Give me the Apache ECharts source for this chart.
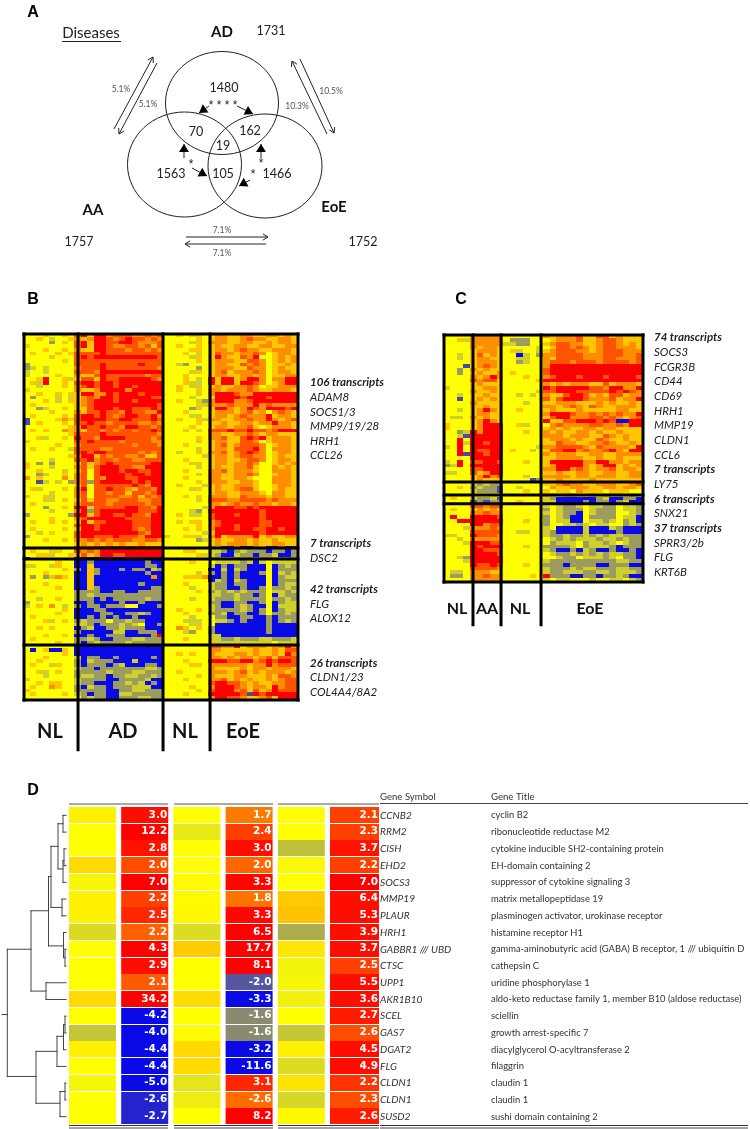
<!DOCTYPE html>
<html>
<head>
<meta charset="utf-8">
<style>html,body{margin:0;padding:0;background:#fff}#main{width:750px;height:1129px}</style>
<script src="https://cdn.jsdelivr.net/npm/echarts@6/dist/echarts.min.js"></script>
</head>
<body>
<div id="main"></div>
<script>
// shade codes
const shadeLevels = {y: 0, l: .45, o: .9, d: 1.35, r: 2, g: -.4, k: -.85, s: -1.5, b: -2};

// panel B, columns NL | AD | NL | EoE
const bGroupStart = [0, 8, 22, 29];
const bTop = [
  'yyylyyly drlrrodddoodod yylylgy loolloolloolol',
  'yylygyyl olorrdodrddodo yyyyyly loollodoollool',
  'yyyykyly drlrrddrrdoood yyyygly ooolloollolool',
  'lyyyyyyy drlrrdooddodld yylyyly lolloolloolloo',
  'yyylyyly ollrrdddoddodo yyyylly loolodoolloool',
  'ylyyylyl ddddrddddddddd yyylygy ldooloodoylool',
  'yyyygyyy drdrrrrrrrrrrd yyyygly lrolldoryylolo',
  'yyyyyyly dddddddddddddd yyyyyly looollddoylolo',
  'kyyyyyyy ddddrdddddrddd yygkyyy loolldodoyllol',
  'kgygyyyy odddrddddddddo yyyyyky looolldooyloll',
  'gyygyyyy dddorrrrrrrrrr yyyygly lodlooodoylool',
  'gyyyylyy olldrddddddodd yyylyyy loollooloylloo',
  'yylryylg lddlrddrrrrrdo yyylygy rlrrlorroyoorr',
  'ylgryyly drrdrrdrrrrrrr yyylggy rlrrlrrdoylorr',
  'yygyyyly odrdrrdrrdrrrr yylyggy lolloodoyllooo',
  'lyyyyyyy ollorrrrorrrrr yylyyly oolooodolloool',
  'yylyylyl lrroordrrrdrrr yyyyygy orrrdoorrrrrrr',
  'ykyyygyg lodorrdrrrrrdd yyyygyy lrrrrdrrrdrrrr',
  'yyylygyl lodrrrdrrdrrrr yylyygk orrroodrrrrrrr',
  'ylyyyyyy lodrrrrrrrrrrd yyyyylg ooodooorodoooo',
  'yykgyyly lldrrrdrrdddrd yyyykgy lrrolordorrrdr',
  'yyyylyyy olddrddorddoor yyylyyy looolodloyodol',
  'ylyyyyly drrdrdodrrddro yyyyggy loolodooorlool',
  'syyyylol drrrrddrrdddrd yylyylg oolloodoorolod',
  'sylyyyly ddrddoddddoodo yyyyyly llollooloorool',
  'yyyyyyyl orddrddorrddod yyyylyy looloodlyloool',
  'ylylyyol olddododdoddrd yyylygy dddrddrddodrrr',
  'yyyyyyyl ddddrddddddddo yyyyyyy oolloodoloolll',
  'yylgyyly rddorrrrddddod yyyyyly oodlldrdrloool',
  'lyyyyyyy ddrddddoddddoo yyyyygy loollddoyloool',
  'yyyyylyy oddddddddodddo yyylyyy lodlodddoylool',
  'ylyylyyg ddddoodddddddd yyyyygy looldddroyoool',
  'yyyyyyyy drdrrdddddodod yygyyly oodlodrdoylool',
  'yyyyyyyl orrldoddoodlld yyyyyyg looloddooyloll',
  'yyyygyyy ddroddoddooddd yyylyyy loolloddoylool',
  'lykykyyy ldgodrddddddrr yyyygly looloodoyylolo',
  'lyyygyyy odldrrrddoorrr yyyyygy lolloodlyyolol',
  'yylyyygy ldydrrrdrrddrr yyylyyy oodlooolyyoool',
  'yykgyyly odydrrrrdrrdrr yyyyygy oolloodoyylool',
  'oylyyyoy odydorrrddrrrr yyylyyy oolloolyyyoool',
  'yysgygyk odkdrrrrrdrdrr yyyyyly ooolloolyyoool',
  'yyyyyyyy ldyddddddrdorr yylyyyg lollooolyylool',
  'ylgyyyly oryddrddolddor yyyygly lolloddlyyloll',
  'yyyygyyy odyddoddlddodr yyyyyyy loollooolyooll',
  'gyylgyyy odyddddoodldod yyylyly ooolldooolooll',
  'yyyggyly ldlddoodddoodd yyyyygy dddooddddodooo',
  'ylyyyyyy oddddodddddodd yyyyyyy oolodoodoolool',
  'yyykyyly rrgdddddrrddor yyyyyyg orrrddrdrrrrrr',
  'yyyygyyy orkdrrrrrrdddr yyyygky rrrrrrrrdrrrrr',
  'kyyyyyyk rrldrrddrddorr yylyggy drrrdrrrdrrrrr',
  'yyyylyyy odrrrrrrddddrr yyyyyyy drrrrrrrdrrrrr',
  'ylyylyly lrlddrrrrdddrr yylylly odrrrrrrddrrrr',
  'yyyyyyyy drrdrrrrrdddrr yyyyyly odrrdrrrddrrrr',
  'ylyyyyly lrrdrrrrrdodrr yyylyly orrrdrrddrrdrr',
  'yygylyyy drrrrrrrrrdorr yyyyyyg lrrrrrrrdrrrrr',
  'kyyyyyyy drrdddrdddorrr gyyllgy orloooorlolloo',
  'yyylyyly oodododddooddo yyyyykg lolloololloll',
  'yyyyyyyy lolololollolll yyyyyyy lolooolollool'
];
const bDsc = [
  'yyyyyyyy ddddrrrrrrrrrr yyyyyyy kgbbgbbkgbbkbb',
  'ylyyllyy dodorrrrrrrrrr yyyllyy ggkbkgkkkbkkbk',
  'yyllgyyl ldlorrddrrrrrr yyyyylg gkbbgkkbkkgbbk'
];
const bFlg = [
  'byyyyyyy bbbbbbbbbbbbbb yyyyyyy kkkkkkkkkkkkkk',
  'yyyyylyy bbkbbbbbbbbkbb yyyylyy yggggkgbgygggg',
  'ggyyglyy bblbbbbbbbbkkb yyyyyyy gbkbkkbbbybkgk',
  'yyyyyyly kblkbbbkbkkbgk yyyyyyy bbgbgkbbbybkkk',
  'yyylyyyy bblkbbbbbbbkbb yyyyygy kbkbkbbbkybgkg',
  'ykykgoly bblbbbbbbbbbob yyylllo bbkbkbbbbybkgg',
  'yyyyyyyy bblbbbbbbbbbbb yyyyyyy bgkbgkbbbybkkk',
  'yyylyyyy bblbbbbbbbkbbb yyylyyy gkkbkkbbbybkgg',
  'yyyyylyy bblkbbbbbbbbkk yyyygyy gkkbbkbbkykkgk',
  'ylyyyyyy kkkkbbkkbbkkkk yyyyyly kgkgkgkkkyggkg',
  'yyyyyyyy kkgkkkkkkkkkkk yyyyyyy ggkkgkkbkybgkk',
  'yygyylyy kkkbkbkkkkkgkk yyyygyy gkkkgkkkkykkgk',
  'kyyyyyyy bbkbbbbkbbkbbb yyyyyyy kkbbkkbbkybkgg',
  'gylyoygy kbkkbkkkyybbbk yyyyyyy gkbbkgkbbybggg',
  'yyyyyyly bbbkkbbbbbbbbb yylyyly gkkkkgkbkybkgg',
  'yyyyylyy bbbbkkbbkkgkbb yyylyyy kkgbkkbbkykkgk',
  'ylyyyyyy bbkbkbkbbkbbbb yyyygyy ykkbbkkbbkbkkk',
  'yyylgyly kgkkkykkgkkbbb yyygggy yggkbkbbbkbkgk',
  'yyyyyyyy ggkbkkkgkgybbk yyyyggy ybbbbbbbbkbbbb',
  'yylylyyy bkgbbkkgkkkbbb yyolyly kbbbbbbbbkbbbb',
  'yyyyyyyy kbbbbbggbbkkkb yyygkyy kbbbbbbbbkbbbb',
  'yyylyyly bbkbbkkkbbbbkr yyyyyyy ggbbbbbbbbbbbb',
  'ylyyyyyy kkgkbbkkkggkkk yyylyyy ggkkgkkkggkkkg',
  'yyyyylyy kbkgkkkkgkkkkk yyyyyyy ggggggggggyggg'
];
const bCldn = [
  'yyyyyyyy bbbbbbbbbbbbbb yyyyyyy ddoorlooolooro',
  'ybylbbly bbbbbbbbbbbbbb yyyyyyy oolllllolloldd',
  'yyyyyyly bbbbbbbbbbbbbb yylylyy ollloolollolro',
  'yyylyyyy gbkkbbkbbbbbkb yyyyyyy oololoolodlddd',
  'yylyyyyy kbgkkkbbbgbbbb yyylyyy rrrddrrodrdrrd',
  'ylyyglyy kbkkkbkgbbbkkb yyyylly oooooolooroddd',
  'yyyyyyyy gkkbkkkkkkkggk yyyyyyy ollllolooloool',
  'yylgylyy kkkkkgkkkggkkk yylyyyy ooolodlolooolo',
  'yyygyyyy kggkkbkkggkkgk yyyyyly ollloolllolddo',
  'gyyyyyyy gkkkkbbkkkkgbb yyylyyy oodlolollolodd',
  'yylyllyy gkkbbbkkgkgbkb yyyyyyy drrddololloodd',
  'ylyyolyy kbgkkbkkkgggbb yyyylyy orrrdoloolrodd',
  'lyyyyyyy kkkkkbbkkggkkk yyyyyly drrrodldlorddd',
  'ylyyyyly gkbkkbbggkkkkk yyylyyy rrrrrdsrdrrrrr',
  'yyyyyyyy ykgkkbbkkkggkk yyyyyyy orrddollodlrrr'
];

// panel C, columns NL | AA | NL | EoE
const cGroupStart = [0, 4, 9, 15];
const cTop = [
  'yyyy ooooo yyyyyy olooodllddlolll',
  'yylg ooooo ykkkyy ylooodlloddolll',
  'yyyy ooooo ggkkyy loddoolloddolol',
  'yyyy olool yyyyyg ylddodoloddoool',
  'yyyy loool ylgyyg lodddoolodddooo',
  'yygy ldlol yybgyk ooddddooodddood',
  'yygy looll yyggyy olddddoooddoood',
  'yyyy loool yykgyy odddodddoddddod',
  'yyys lodol yyyyyy orrrrrrrrrrrrrr',
  'yyky ololl yyyyyy drrrrrrrrrrrrrr',
  'yyky lollo ylyyyy drrrrrrrrrrrrrr',
  'yyyy oloro yyylyy odrrrdrrrdrrrrd',
  'yyyy doddl yyyyyl rrrrrrrrrrrrrrr',
  'yyyy lolll yyyyyy ololooolldloool',
  'gyyy llool yyyyyy rdrrrrrddorroor',
  'yyyy ollol yyyyyg ddrrrdddddrdrdo',
  'yygy lloll yygygy olldrrdlolddloo',
  'yysy lolol yyyyyy dldrrrdooodloor',
  'yyyy ollll yyygyy llooolllolollol',
  'yyyy lloll yyyyyy oolodoldolloool',
  'yygy lorol yylyyy lolllolllllooll',
  'yyyy looll yyyyyy orrrdoodododoor',
  'yggy ololl yyyyyy ldrroooddodolod',
  'yyyy lorol yyyyyy rllddrrrdrdbbrr',
  'lyyy lorrr yylgyy yodooooddoodorr',
  'lyyy lorrr yyyyyy lolollooloollll',
  'yykg rorrr yyylyy ololloolollolll',
  'yygs rrrrr yyyyyy ooolooolldololl',
  'yyry rrrrr yyyyyy looololldolloll',
  'yyrg rrdrr yyyyyy lldoolloodollol',
  'gyry rrrrr yyyyyg ooddddoldoooolr',
  'yyry rddrr ylyygy lddrrodoodrolrr',
  'yyrs rrdrr yyyyyy olooolloolloooo',
  'yyyy rrrrr yyyyyy lloooollollolll',
  'gyry ddrrd yyylyy lrrrrroorrooloo',
  'kgry rrrrr yyyyyy lorrrrolorrlolo',
  'yyyy ddrrr yyyyyy oorrodoloodlool',
  'ggyy dlorr yyyyyy llolloolloolloo',
  'yyyy lorod yyygyy ooooloolooolloo',
  'yyyy lolll yyyysk llollllolllllll'
];
const cMid1 = [
  'yyyy gkgkk yyyyyy llodoollooollod',
  'yyly kgkks yygyyy yollooolloolool',
  'yyyy gkkks yyylyy lyllyolllylllyy'
];
const cMid2 = [
  'yyyy yyyyy yyyyyy llyllyylylllyly',
  'ylyy gkkgs yyyyyy gkbbbbbbkgbbkkb',
  'yyyy skskk yylyyy ggbbbbkbkkbkgbb'
];
const cBottom = [
  'yyyy ddodd yyyyyy gygkkgyggkkyggk',
  'ylyy lolol yyyyyy kygkkkygkkkyggk',
  'yyyy oodoo yyyyyy gygkkbygkkkyygk',
  'yryy rrrrd yyyyyy kygkbbykkkkyggb',
  'yyrr rrrrr yyylyy kyggbbyggkgykgb',
  'yyyy rrodd yyyyyy kyyggkgyggyykgk',
  'yyyg ooodo yyyyyy gybbbbgbbbgkbbb',
  'yyyy ddddd yyggyy gkbbbbgbbbbkbbb',
  'ggyy rdddo yyyyyy gkkgkkgkgkggkkk',
  'yygy ooooo yyyyyy ygkgkgggkggkgkk',
  'yyyg rrrdd yyyyyy ykgggykggkgygkk',
  'yyyy rdrrr yyylyy kkkkgykgggkbkkk',
  'yyyy rrddd yyyyyy gkbbkbgkbbkbbkb',
  'yyyy rrrrd yyyyyy ygkkgkgkgkggkkb',
  'yygk rrrrr yyyyyy yygkkygggkgykkb',
  'yyyg rrrrr yyyyyy gkkkkkkkkkkggkk',
  'yyyy rddrd yyylyy kkkbkkkkbbkkkbb',
  'yyyy ddddo yyyyyy gkkkgkggkkkggkk',
  'yggy oooll yyyyyy gkkgggkkggkgggk',
  'ykky oodoo yyyyly rkkkbbkkbkkgkbb',
  'yyyy ooooo yyyyyy gyggyyygyyggygk'
];

// panel D
const geneSymbols = ['CCNB2', 'RRM2', 'CISH', 'EHD2', 'SOCS3', 'MMP19', 'PLAUR', 'HRH1', 'GABBR1 /// UBD', 'CTSC', 'UPP1', 'AKR1B10', 'SCEL', 'GAS7', 'DGAT2', 'FLG', 'CLDN1', 'CLDN1', 'SUSD2'];
const geneTitles = ['cyclin B2', 'ribonucleotide reductase M2', 'cytokine inducible SH2-containing protein', 'EH-domain containing 2', 'suppressor of cytokine signaling 3', 'matrix metallopeptidase 19', 'plasminogen activator, urokinase receptor', 'histamine receptor H1', 'gamma-aminobutyric acid (GABA) B receptor, 1 /// ubiquitin D', 'cathepsin C', 'uridine phosphorylase 1', 'aldo-keto reductase family 1, member B10 (aldose reductase)', 'sciellin', 'growth arrest-specific 7', 'diacylglycerol O-acyltransferase 2', 'filaggrin', 'claudin 1', 'claudin 1', 'sushi domain containing 2'];
const foldAD = [3.0, 12.2, 2.8, 2.0, 7.0, 2.2, 2.5, 2.2, 4.3, 2.9, 2.1, 34.2, -4.2, -4.0, -4.4, -4.4, -5.0, -2.6, -2.7];
const foldAA = [1.7, 2.4, 3.0, 2.0, 3.3, 1.8, 3.3, 6.5, 17.7, 8.1, -2.0, -3.3, -1.6, -1.6, -3.2, -11.6, 3.1, -2.6, 8.2];
const foldEoE = [2.1, 2.3, 3.7, 2.2, 7.0, 6.4, 5.3, 3.9, 3.7, 2.5, 5.5, 3.6, 2.7, 2.6, 4.5, 4.9, 2.2, 2.3, 2.6];
const shadeNL1 = [.12, 0, 0, .3, -.08, .1, .1, -.32, 0, 0, 0, .3, 0, -.5, .12, 0, -.08, 0, 0];
const shadeAD = [1.9, 2, 1.85, 1.4, 2, 1.5, 1.7, 1.25, 2, 1.9, 1.3, 2, -2, -2, -2, -2, -2, -1.8, -1.8];
const shadeNL2 = [0, -.2, 0, 0, .04, .04, .05, -.3, .4, 0, 0, .28, 0, .03, .3, .28, -.22, -.15, 0];
const shadeAA = [1.05, 1.5, 1.9, 1.2, 1.95, 1.1, 1.95, 2, 2, 2, -1.4, -2, -1, -1, -2, -2, 1.7, 1.15, 2];
const shadeNL3 = [0, 0, -.55, -.05, 0, .42, .48, -.7, .2, -.1, -.08, -.12, 0, -.48, .12, -.3, .22, -.35, .05];
const shadeEoE = [1.5, 1.5, 1.85, 1.5, 2, 1.9, 1.9, 1.9, 1.9, 1.5, 1.9, 1.9, 1.8, 1.4, 1.9, 1.9, 1.6, 1.4, 1.8];

// dendrogram of panel D: [height1, row1, height2, row2]
const dendroSegs = [
  [66, 0, 63, 0], [66, 1, 63, 1], [63, 0, 63, 1], [63, .5, 58, .5],
  [66, 2, 64, 2], [66, 3, 64, 3], [64, 2, 64, 3], [66, 4, 63, 4], [64, 2.7, 63, 2.7], [63, 2.7, 63, 4], [63, 3.2, 58, 3.2],
  [58, .5, 58, 3.2], [58, 1.85, 51, 1.85],
  [66, 5, 62, 5], [66, 6, 62, 6], [62, 5, 62, 6], [62, 5.5, 51, 5.5], [51, 1.85, 51, 5.5], [51, 3.65, 48.5, 3.65],
  [66, 7, 63.5, 7], [66, 8, 65, 8], [66, 9, 65, 9], [65, 8, 65, 9], [65, 8.5, 63.5, 8.5], [63.5, 7, 63.5, 8.5], [63.5, 7.8, 48.5, 7.8],
  [48.5, 3.65, 48.5, 7.8], [48.5, 5.7, 31, 5.7],
  [66, 10, 46, 10], [66, 11, 46, 11], [46, 10, 46, 11], [46, 10.5, 31, 10.5], [31, 5.7, 31, 10.5], [31, 8, 7.3, 8],
  [66, 12, 65, 12], [66, 13, 65, 13], [65, 12, 65, 13], [65, 12.5, 63.5, 12.5], [66, 14, 63.5, 14], [63.5, 12.5, 63.5, 14], [63.5, 13.2, 57, 13.2],
  [66, 15, 57, 15], [57, 13.2, 57, 15], [57, 14.1, 36, 14.1],
  [66, 16, 65, 16], [66, 17, 65, 17], [65, 16, 65, 17], [65, 16.5, 60, 16.5], [66, 18, 60, 18], [60, 16.5, 60, 18], [60, 17.2, 36, 17.2],
  [36, 14.1, 36, 17.2], [36, 15.6, 7.3, 15.6], [7.3, 8, 7.3, 15.6], [7.3, 11.9, 2, 11.9]
];

// panel A
const vennCounts = [['1480', 224, 88], ['70', 196, 132], ['162', 250, 131], ['19', 223, 146], ['1563', 171, 174], ['105', 223, 174], ['1466', 277, 174], ['1731', 271, 31], ['1757', 79, 242], ['1752', 363, 242]];
const vennNames = [['AD', 222, 32], ['AA', 93, 210], ['EoE', 334, 207]];
const vennPercents = [['5.1%', 121, 89], ['5.1%', 148, 104], ['10.3%', 297, 106], ['10.5%', 331, 91], ['7.1%', 222, 230], ['7.1%', 222, 253]];
const vennStars = [['* * * *', 223, 106], ['*', 191, 165], ['*', 261, 164], ['*', 253, 175]];

// side labels [text, bold, y]
const bNotes = [['106 transcripts', 1, 382], ['ADAM8', 0, 397], ['SOCS1/3', 0, 412], ['MMP9/19/28', 0, 426], ['HRH1', 0, 441], ['CCL26', 0, 455], ['7 transcripts', 1, 543], ['DSC2', 0, 558], ['42 transcripts', 1, 589], ['FLG', 0, 604], ['ALOX12', 0, 618], ['26 transcripts', 1, 663], ['CLDN1/23', 0, 677], ['COL4A4/8A2', 0, 692]];
const cNotes = [['74 transcripts', 1, 337], ['SOCS3', 0, 352], ['FCGR3B', 0, 367], ['CD44', 0, 381], ['CD69', 0, 396], ['HRH1', 0, 411], ['MMP19', 0, 425], ['CLDN1', 0, 440], ['CCL6', 0, 455], ['7 transcripts', 1, 469], ['LY75', 0, 484], ['6 transcripts', 1, 499], ['SNX21', 0, 513], ['37 transcripts', 1, 528], ['SPRR3/2b', 0, 543], ['FLG', 0, 557], ['KRT6B', 0, 572]];

const sansFont = 'Lato, "Open Sans", sans-serif';

function rowsToCells(rows, starts, total) {
  let cells = [];
  rows.forEach(function (row, r) {
    row.split(' ').forEach(function (group, g) {
      const size = (starts[g + 1] === undefined ? total : starts[g + 1]) - starts[g];
      for (let i = 0; i < size; i++) {
        const ch = group[i] || group[group.length - 1];
        cells.push([starts[g] + i, r, shadeLevels[ch]]);
      }
    });
  });
  return cells;
}

function renderCell(params, api) {
  const a = api.coord([api.value(0), api.value(1)]);
  const b = api.coord([api.value(0) + 1, api.value(1) + 1]);
  return {
    type: 'rect',
    shape: {x: Math.floor(a[0]), y: Math.floor(a[1]), width: Math.ceil(b[0]) - Math.floor(a[0]), height: Math.ceil(b[1]) - Math.floor(a[1])},
    style: {fill: api.visual('color')}
  };
}

function renderSeg(params, api) {
  const a = api.coord([api.value(0), api.value(1)]);
  const b = api.coord([api.value(2), api.value(3)]);
  return {
    type: 'line',
    shape: {x1: a[0], y1: a[1], x2: b[0], y2: b[1]},
    style: {stroke: params.seriesName == 'dendro' ? '#444' : '#000', lineWidth: params.seriesName == 'dendro' ? 1 : 3, lineCap: 'square'}
  };
}

function renderFold(params, api) {
  const col = api.value(0), row = api.value(1);
  const a = api.coord([col, row]);
  const b = api.coord([col + 1, row + 1]);
  const width = col == 5 ? 49 : 47;
  const kids = [{
    type: 'rect',
    shape: {x: a[0], y: Math.round(a[1]), width: width, height: Math.round(b[1] - a[1]) - 1},
    style: {fill: api.visual('color')}
  }];
  if (col % 2 == 1) {
    kids.push({
      type: 'text',
      style: {text: api.value(3).toFixed(1), x: a[0] + width - 1, y: (a[1] + b[1]) / 2 - .5, align: 'right', verticalAlign: 'middle', fill: '#fff', font: 'bold 10.5px "DejaVu Sans"'}
    });
  }
  return {type: 'group', children: kids};
}

function renderGene(params, api) {
  const row = params.dataIndex;
  const p = api.coord([6, row + .5]);
  return {
    type: 'group',
    children: [
      {type: 'text', style: {text: geneSymbols[row], x: 380, y: p[1], verticalAlign: 'middle', fill: '#333', font: 'italic 10.2px ' + sansFont}},
      {type: 'text', style: {text: geneTitles[row], x: 491, y: p[1], verticalAlign: 'middle', fill: '#333', font: '9.4px ' + sansFont}}
    ]
  };
}

let foldCells = [];
[[shadeNL1, null], [shadeAD, foldAD], [shadeNL2, null], [shadeAA, foldAA], [shadeNL3, null], [shadeEoE, foldEoE]].forEach(function (c, col) {
  c[0].forEach(function (v, row) {
    foldCells.push([col, row, v, c[1] ? c[1][row] : 0]);
  });
});

const bCells = rowsToCells(bTop.concat(bDsc, bFlg, bCldn), bGroupStart, 43);
const cCells = rowsToCells(cTop.concat(cMid1, cMid2, cBottom), cGroupStart, 30);

const bLines = [[8.48, 0, 8.48, 113.6], [21.82, 0, 21.82, 113.6], [29.2, 0, 29.2, 113.6],
  [0, 58.5, 43, 58.5], [0, 61.5, 43, 61.5], [0, 85, 43, 85], [0, 0, 43, 0], [0, 100, 43, 100], [0, 0, 0, 100], [43, 0, 43, 100]];
const cLines = [[4.37, 0, 4.37, 78.6], [8.6, 0, 8.6, 78.6], [14.63, 0, 14.63, 78.6],
  [0, 39.9, 30, 39.9], [0, 43.4, 30, 43.4], [0, 45.8, 30, 45.8], [0, 0, 30, 0], [0, 67, 30, 67], [0, 0, 0, 67], [30, 0, 30, 67]];

function textEl(text, x, y, font, fill, align) {
  return {type: 'text', x: x, y: y, silent: true, style: {text: text, font: font, fill: fill || '#222', align: align || 'center', textAlign: align || 'center', verticalAlign: 'middle', textVerticalAlign: 'middle'}};
}
function lineEl(x1, y1, x2, y2, width, color) {
  return {type: 'line', silent: true, shape: {x1: x1, y1: y1, x2: x2, y2: y2}, style: {stroke: color || '#222', lineWidth: width || 1}};
}
function openArrow(x1, y1, x2, y2) {
  const t = Math.atan2(y2 - y1, x2 - x1), s = 6;
  return [lineEl(x1, y1, x2, y2),
    lineEl(x2, y2, x2 - s * Math.cos(t - .55), y2 - s * Math.sin(t - .55)),
    lineEl(x2, y2, x2 - s * Math.cos(t + .55), y2 - s * Math.sin(t + .55))];
}
function solidArrow(x1, y1, x2, y2) {
  const t = Math.atan2(y2 - y1, x2 - x1), s = 9.5;
  return [lineEl(x1, y1, x2, y2),
    {type: 'polygon', silent: true, shape: {points: [[x2, y2], [x2 - s * Math.cos(t - .55), y2 - s * Math.sin(t - .55)], [x2 - s * Math.cos(t + .55), y2 - s * Math.sin(t + .55)]]}, style: {fill: '#000'}}];
}

let els = [];
[[222, 103, 56.5, 51.5], [184.5, 164.5, 57, 52.5], [265, 166, 57, 52]].forEach(function (c) {
  els.push({type: 'ellipse', silent: true, shape: {cx: c[0], cy: c[1], rx: c[2], ry: c[3]}, style: {fill: 'transparent', stroke: '#222', lineWidth: 1}});
});
els.push(textEl('A', 33, 13, 'bold 16px "Liberation Sans"', '#000'));
els.push(textEl('B', 33, 300, 'bold 16px "Liberation Sans"', '#000'));
els.push(textEl('C', 461, 300, 'bold 16px "Liberation Sans"', '#000'));
els.push(textEl('D', 33, 791, 'bold 16px "Liberation Sans"', '#000'));
els.push(textEl('Diseases', 91, 33, '15px ' + sansFont));
els.push(lineEl(62, 41.5, 121, 41.5));
vennCounts.forEach(function (v) { els.push(textEl(v[0], v[1], v[2], '12.5px ' + sansFont)); });
vennNames.forEach(function (v) { els.push(textEl(v[0], v[1], v[2], 'bold 15px ' + sansFont, '#111')); });
vennPercents.forEach(function (v) { els.push(textEl(v[0], v[1], v[2], '8.5px ' + sansFont, '#555')); });
vennStars.forEach(function (v) { els.push(textEl(v[0], v[1], v[2], '12px "Liberation Sans"', '#222')); });
[[114, 129, 153, 57], [157, 63, 119, 134], [300, 59, 334, 133], [327, 134, 292, 61], [186, 237, 268, 237], [266, 244, 185, 244]].forEach(function (a) {
  els = els.concat(openArrow(a[0], a[1], a[2], a[3]));
});
[[209, 106, 199, 113], [237, 106, 253, 114], [184, 158, 184, 144], [192, 168, 207, 176], [261, 158, 261, 144], [250, 180, 239, 186]].forEach(function (a) {
  els = els.concat(solidArrow(a[0], a[1], a[2], a[3]));
});
bNotes.forEach(function (n) {
  els.push(textEl(n[0], 310, n[2], (n[1] ? 'italic bold ' : 'italic ') + '11.5px ' + sansFont, '#222', 'left'));
});
cNotes.forEach(function (n) {
  els.push(textEl(n[0], 654, n[2], (n[1] ? 'italic bold ' : 'italic ') + '11.5px ' + sansFont, '#222', 'left'));
});
[['NL', 50], ['AD', 123], ['NL', 185], ['EoE', 243]].forEach(function (g) {
  els.push(textEl(g[0], g[1], 732, 'bold 20px ' + sansFont, '#111'));
});
[['NL', 457], ['AA', 487], ['NL', 520], ['EoE', 590]].forEach(function (g) {
  els.push(textEl(g[0], g[1], 609, 'bold 16px ' + sansFont, '#111'));
});
els.push(textEl('Gene Symbol', 380, 797, '9.6px ' + sansFont, '#333', 'left'));
els.push(textEl('Gene Title', 491, 797, '9.6px ' + sansFont, '#333', 'left'));
els.push(lineEl(69, 804, 168, 804, 1, '#555'), lineEl(174, 804, 273, 804, 1, '#555'), lineEl(278, 804, 379, 804, 1, '#555'), lineEl(380, 803.5, 748, 803.5, 1, '#444'));
[[69, 168], [174, 273], [278, 379], [380, 748]].forEach(function (s) {
  els.push(lineEl(s[0], 1125.5, s[1], 1125.5, 1, '#333'), lineEl(s[0], 1128, s[1], 1128, 1, '#444'));
});

function hiddenAxes(idx, xMax, yMax) {
  return {
    x: {type: 'value', gridIndex: idx, min: 0, max: xMax, show: false},
    y: {type: 'value', gridIndex: idx, min: 0, max: yMax, inverse: true, show: false}
  };
}
const axB = hiddenAxes(0, 43, 113.66), axC = hiddenAxes(1, 30, 78.67), axD = hiddenAxes(2, 6, 19), axT = hiddenAxes(3, 66, 19);
axT.y.min = -.5; axT.y.max = 18.5;

const chart = echarts.init(document.getElementById('main'), null, {renderer: 'canvas'});
chart.setOption({
  animation: false,
  backgroundColor: '#fff',
  grid: [
    {left: 24, top: 334, width: 274, height: 416},
    {left: 444, top: 335, width: 199, height: 290},
    {left: 69, top: 807, width: 313.2, height: 318},
    {left: 0, top: 807, width: 66, height: 318}
  ],
  xAxis: [axB.x, axC.x, axD.x, axT.x],
  yAxis: [axB.y, axC.y, axD.y, axT.y],
  visualMap: {
    show: false, type: 'continuous', seriesIndex: [0, 1, 2], dimension: 2, min: -2, max: 2,
    inRange: {color: ['#0a0ae6', '#8a8a70', '#ffff00', '#ff8000', '#ff0000']}
  },
  series: [
    {type: 'custom', name: 'b', xAxisIndex: 0, yAxisIndex: 0, data: bCells, renderItem: renderCell, progressive: 0, silent: true},
    {type: 'custom', name: 'c', xAxisIndex: 1, yAxisIndex: 1, data: cCells, renderItem: renderCell, progressive: 0, silent: true},
    {type: 'custom', name: 'd', xAxisIndex: 2, yAxisIndex: 2, data: foldCells, renderItem: renderFold, progressive: 0, silent: true},
    {type: 'custom', name: 'bLines', xAxisIndex: 0, yAxisIndex: 0, data: bLines, renderItem: renderSeg, silent: true, z: 5},
    {type: 'custom', name: 'cLines', xAxisIndex: 1, yAxisIndex: 1, data: cLines, renderItem: renderSeg, silent: true, z: 5},
    {type: 'custom', name: 'dendro', xAxisIndex: 3, yAxisIndex: 3, data: dendroSegs, renderItem: renderSeg, silent: true},
    {type: 'custom', name: 'genes', xAxisIndex: 2, yAxisIndex: 2, data: geneSymbols.map(function (s, i) { return [6, i]; }), renderItem: renderGene, silent: true}
  ],
  graphic: {elements: els}
});
</script>
</body>
</html>
